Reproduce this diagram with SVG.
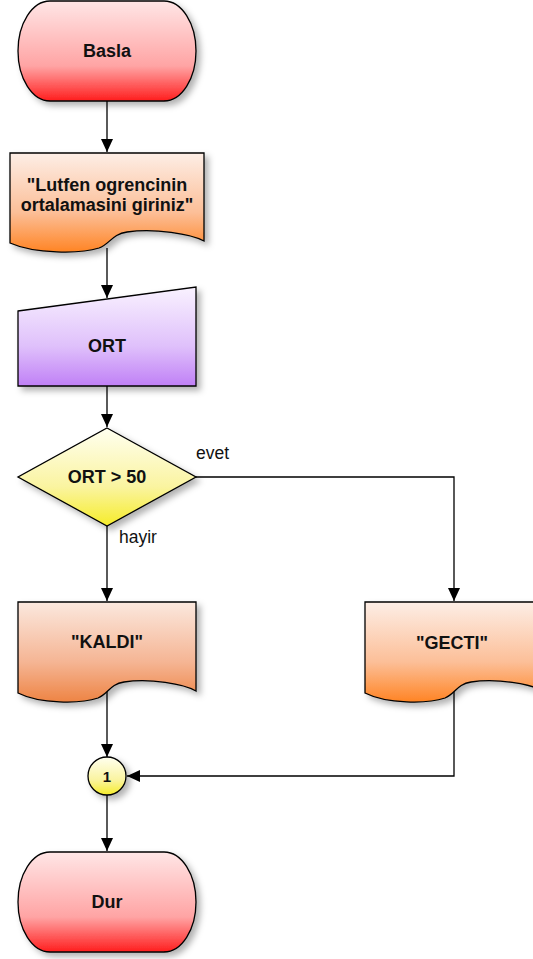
<svg xmlns="http://www.w3.org/2000/svg" width="533" height="959" viewBox="0 0 533 959">
<style>
.shape{stroke:#000;stroke-width:1.3}
.t{font-family:"Liberation Sans",Arial,sans-serif;font-weight:bold;font-size:18px;fill:#111;text-anchor:middle}
.lbl{font-family:"Liberation Sans",Arial,sans-serif;font-size:17.5px;fill:#111}
.c{fill:none;stroke:#000;stroke-width:1.3}
</style>
<defs>
<linearGradient id="gRed" x1="0" y1="0" x2="0" y2="1"><stop offset="0" stop-color="#ffe6e6"/><stop offset="0.65" stop-color="#ffa4a4"/><stop offset="1" stop-color="#ff1e1e"/></linearGradient>
<linearGradient id="gOr" x1="0" y1="0" x2="0" y2="1"><stop offset="0" stop-color="#fdeee6"/><stop offset="0.6" stop-color="#fcbf98"/><stop offset="1" stop-color="#ff8424"/></linearGradient>
<linearGradient id="gSal" x1="0" y1="0" x2="0" y2="1"><stop offset="0" stop-color="#fbe8de"/><stop offset="0.6" stop-color="#f5b594"/><stop offset="1" stop-color="#ee8444"/></linearGradient>
<linearGradient id="gPur" x1="0" y1="0" x2="0" y2="1"><stop offset="0" stop-color="#f9f2ff"/><stop offset="0.6" stop-color="#dfc0fb"/><stop offset="1" stop-color="#c080f6"/></linearGradient>
<linearGradient id="gYel" x1="0" y1="0" x2="0" y2="1"><stop offset="0" stop-color="#fffff0"/><stop offset="0.6" stop-color="#faf4a0"/><stop offset="1" stop-color="#f6ec2a"/></linearGradient>
<filter id="sh" x="-20%" y="-20%" width="150%" height="150%"><feDropShadow dx="4" dy="4" stdDeviation="3" flood-color="#000" flood-opacity="0.3"/></filter>
<marker id="ah" markerUnits="userSpaceOnUse" markerWidth="14" markerHeight="12" refX="13" refY="6" orient="auto"><path d="M0,0 L13,6 L0,12 Z" fill="#000"/></marker>
</defs>

<g id="connectors">
<path class="c" d="M107,101 V152" marker-end="url(#ah)"/>
<path class="c" d="M107,248 V298" marker-end="url(#ah)"/>
<path class="c" d="M107,386 V427" marker-end="url(#ah)"/>
<path class="c" d="M107,526 V601" marker-end="url(#ah)"/>
<path class="c" d="M196,477 H454 V601" marker-end="url(#ah)"/>
<path class="c" d="M107,690 V757" marker-end="url(#ah)"/>
<path class="c" d="M454,690 V776 H127" marker-end="url(#ah)"/>
<path class="c" d="M107,795 V851" marker-end="url(#ah)"/>
<text class="lbl" x="196" y="459">evet</text>
<text class="lbl" x="119" y="543">hayir</text>
</g>

<g id="basla">
<rect class="shape" x="18" y="1" width="178" height="100" rx="32" ry="50" fill="url(#gRed)" filter="url(#sh)"/>
<text class="t" x="107" y="57">Basla</text>
</g>

<g id="mesaj">
<path class="shape" d="M10,153 H204 V241 C191,234 155,228 127,232 C112,234 110,244 99,248 C80,254 35,254 10,243 Z" fill="url(#gOr)" filter="url(#sh)"/>
<text class="t" x="107" y="191">"Lutfen ogrencinin</text>
<text class="t" x="107" y="211">ortalamasini giriniz"</text>
</g>

<g id="giris">
<path class="shape" d="M18,311 L196,287 V386 H18 Z" fill="url(#gPur)" filter="url(#sh)"/>
<text class="t" x="107" y="352">ORT</text>
</g>

<g id="karar">
<path class="shape" d="M107,428 L196,477 L107,526 L18,477 Z" fill="url(#gYel)" filter="url(#sh)"/>
<text class="t" x="107" y="483">ORT &gt; 50</text>
</g>

<g id="kaldi">
<path class="shape" d="M18,602 H196 V691 C184,684 150,678 124,682 C110,684 108,694 98,698 C80,704 40,704 18,693 Z" fill="url(#gSal)" filter="url(#sh)"/>
<text class="t" x="107" y="648">"KALDI"</text>
</g>

<g id="gecti">
<path class="shape" d="M365,602 H543 V691 C531,684 497,678 471,682 C457,684 455,694 445,698 C427,704 387,704 365,693 Z" fill="url(#gOr)" filter="url(#sh)"/>
<text class="t" x="452" y="649">"GECTI"</text>
</g>

<g id="baglanti">
<circle class="shape" cx="107" cy="776" r="19" fill="url(#gYel)" filter="url(#sh)"/>
<text class="t" x="107" y="782" style="font-size:15px">1</text>
</g>

<g id="dur">
<rect class="shape" x="18" y="852" width="178" height="100" rx="32" ry="50" fill="url(#gRed)" filter="url(#sh)"/>
<text class="t" x="107" y="908">Dur</text>
</g>
</svg>
